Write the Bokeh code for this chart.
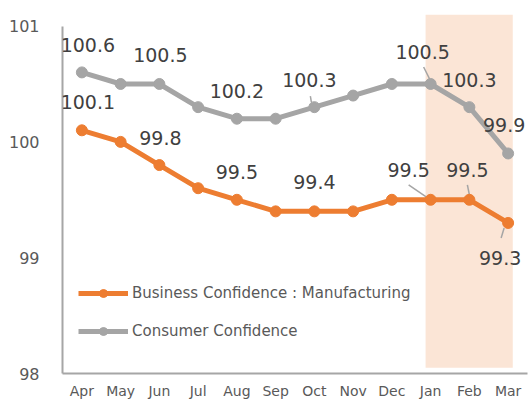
from bokeh.plotting import figure
from bokeh.models import ColumnDataSource, FixedTicker, Legend, LegendItem, Range1d, LabelSet
from bokeh.core.properties import value
from bokeh.embed import file_html
from bokeh.resources import INLINE

months = ["Apr", "May", "Jun", "Jul", "Aug", "Sep", "Oct", "Nov", "Dec", "Jan", "Feb", "Mar"]
business = [100.1, 100.0, 99.8, 99.6, 99.5, 99.4, 99.4, 99.4, 99.5, 99.5, 99.5, 99.3]
consumer = [100.6, 100.5, 100.5, 100.3, 100.2, 100.2, 100.3, 100.4, 100.5, 100.5, 100.3, 99.9]
y_ticks = [98, 99, 100, 101]
highlight = ["Jan", "Mar"]

# labelled points: (index, dx px, dy px)
bus_labels = [(0, 6, -28), (2, 1, -27), (4, 0, -28), (6, 0, -29), (9, -22, -30), (10, -2, -30), (11, -8, 35)]
con_labels = [(0, 6, -27), (2, 1, -29), (4, 0, -28), (6, -5, -27), (9, -8, -32), (10, 0, -27), (11, -4, -28)]
# leader lines: (series, index, x0, y0, x1, y1) in px offsets from point
leaders = [("c", 9, -7, -17, -1, -5), ("c", 6, -4, -11, -3, -5),
           ("b", 9, -22, -15, -3, -2), ("b", 10, -2, -15, 0, -5), ("b", 11, -4, 5, -7, 15)]

ORANGE = "#ED7D31"
GREY = "#A5A5A5"
TXT = "#404040"
AX = "#595959"
FONT = "DejaVu Sans"

x = list(range(len(months)))
p = figure(width=528, height=401, output_backend="svg", toolbar_location=None,
           x_range=Range1d(-0.5, 11.5), y_range=Range1d(98, 101.1),
           min_border_left=62, min_border_right=1, min_border_top=14, min_border_bottom=27)
p.outline_line_color = None
p.xgrid.visible = False
p.ygrid.visible = False

# highlight shade
i0 = months.index(highlight[0]); i1 = months.index(highlight[1])
p.quad(left=[i0 - 0.13], right=[i1 + 0.12], bottom=[98.05], top=[101.1],
       fill_color="#FBE5D6", line_color=None)

PXX = 38.75
PXY = 116.1

def add_leaders(series, vals):
    xs0, ys0, xs1, ys1 = [], [], [], []
    for s, i, a, b, c, d in leaders:
        if s != series:
            continue
        xs0.append(i + a / PXX); ys0.append(vals[i] - b / PXY)
        xs1.append(i + c / PXX); ys1.append(vals[i] - d / PXY)
    p.segment(x0=xs0, y0=ys0, x1=xs1, y1=ys1, line_color="#A5A5A5", line_width=1.5)

add_leaders("c", consumer)
add_leaders("b", business)

lb = p.line(x, business, line_color=ORANGE, line_width=5)
cb = p.scatter(x, business, size=11, fill_color=ORANGE, line_color=ORANGE)
lc = p.line(x, consumer, line_color=GREY, line_width=5)
cc = p.scatter(x, consumer, size=11, fill_color=GREY, line_color=GREY)

def add_labels(vals, specs):
    src = ColumnDataSource(dict(
        x=[i for i, _, _ in specs], y=[vals[i] for i, _, _ in specs],
        t=["%.1f" % vals[i] for i, _, _ in specs],
        dx=[a for _, a, _ in specs], dy=[-b for _, _, b in specs]))
    ls = LabelSet(x="x", y="y", text="t", x_offset="dx", y_offset="dy", source=src,
                  text_align="center", text_baseline="middle", text_font=value(FONT),
                  text_font_size=value("19px"), text_color=value(TXT))
    p.add_layout(ls)

add_labels(consumer, con_labels)
add_labels(business, bus_labels)

p.xaxis.ticker = FixedTicker(ticks=x)
p.xaxis.major_label_overrides = {i: m for i, m in enumerate(months)}
p.yaxis.ticker = FixedTicker(ticks=y_ticks)
p.yaxis.bounds = (98, 101)
for ax in (p.xaxis, p.yaxis):
    ax.axis_line_color = "#A6A6A6"
    ax.axis_line_width = 2
    ax.major_tick_line_color = None
    ax.minor_tick_line_color = None
    ax.major_label_text_color = AX
    ax.major_label_text_font = FONT
p.xaxis.major_label_text_font_size = "14px"
p.xaxis.major_label_standoff = 3
p.yaxis.major_label_text_font_size = "16px"
p.yaxis.major_label_standoff = 17

legend = Legend(items=[
    LegendItem(label="Business Confidence : Manufacturing", renderers=[lb, cb]),
    LegendItem(label="Consumer Confidence", renderers=[lc, cc]),
], location=(16, 32), orientation="vertical")
legend.background_fill_alpha = 0
legend.border_line_color = None
legend.padding = 0
legend.margin = 0
legend.spacing = 18
legend.glyph_width = 50
legend.glyph_height = 20
legend.label_height = 20
legend.label_standoff = 4
legend.label_text_font = FONT
legend.label_text_font_size = "15px"
legend.label_text_color = AX
p.add_layout(legend)

open("out.html", "w").write(file_html(p, INLINE))
